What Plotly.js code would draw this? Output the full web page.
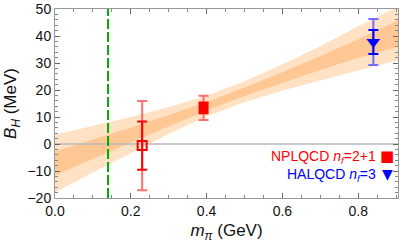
<!DOCTYPE html>
<html><head><meta charset="utf-8">
<script src="https://cdn.plot.ly/plotly-3.0.1.min.js"></script>
<style>html,body{margin:0;padding:0;background:#fff}#c{width:399px;height:245px}</style>
</head><body><div id="c"></div>
<script>
// Fit band
const bandX      = [0, 0.1, 0.2, 0.3, 0.4, 0.5, 0.6, 0.7, 0.8, 0.9, 0.91];
const outerUpper = [3.4, 6.7, 10.0, 13.7, 17.9, 23.2, 29.5, 36.2, 43.6, 50.6, 51.4];
const outerLower = [-18.0, -10.6, -3.3, 3.7, 10.2, 15.5, 19.8, 23.6, 27.2, 30.8, 31.1];
const innerUpper = [-2.8, 1.6, 6.1, 10.7, 15.6, 20.9, 26.6, 32.6, 38.8, 45.5, 46.1];
const innerLower = [-11.7, -5.5, 0.6, 6.6, 12.4, 17.8, 22.7, 27.4, 31.9, 35.8, 36.2];

// Lattice points
const nplX = [0.23, 0.392];
const nplY = [-0.6, 13.4];
const nplStat = [8.9, 2.0];
const nplTot = [16.5, 4.5];
const halX = [0.84];
const halY = [37.8];
const halStat = [4.45];
const halTot = [8.5];

const physMpi = 0.14;
const xRange = [0, 0.905];
const yRange = [-20, 50];

const legendLabels = ['NPLQCD <i>n</i><sub><i>f</i></sub>=2+1', 'HALQCD <i>n</i><sub><i>f</i></sub>=3'];
const legendGlyphs = ['■', '▼'];
const legendColors = ['rgb(255,0,0)', 'rgb(0,0,255)'];

const rev = a => a.slice().reverse();
const traces = [
  {x: bandX.concat(rev(bandX)), y: outerUpper.concat(rev(outerLower)), fill:'toself', mode:'lines',
   line:{width:0}, fillcolor:'rgb(255,226,196)', hoverinfo:'skip'},
  {x: bandX.concat(rev(bandX)), y: innerUpper.concat(rev(innerLower)), fill:'toself', mode:'lines',
   line:{width:0}, fillcolor:'rgb(255,199,148)', hoverinfo:'skip'},
  {x: xRange, y:[0,0], mode:'lines', line:{color:'rgb(185,185,185)', width:1.5}},
  {x:[physMpi, physMpi], y: yRange, mode:'lines', line:{color:'rgb(0,170,0)', width:2, dash:'10px,3px'}},
  // outer (total) error bars
  {x: nplX, y: nplY, mode:'markers', marker:{size:0.1, color:'rgba(0,0,0,0)'},
   error_y:{type:'data', array: nplTot, color:'rgb(255,110,110)', thickness:2, width:5}},
  {x: halX, y: halY, mode:'markers', marker:{size:0.1, color:'rgba(0,0,0,0)'},
   error_y:{type:'data', array: halTot, color:'rgb(110,110,255)', thickness:2, width:5}},
  // stat error bars + markers
  {x: [nplX[0]], y: [nplY[0]], mode:'markers',
   marker:{symbol:'square-open', size:9, color:'rgb(255,0,0)', line:{width:2, color:'rgb(255,0,0)'}},
   error_y:{type:'data', array:[nplStat[0]], color:'rgb(255,0,0)', thickness:2, width:5}},
  {x: [nplX[1]], y: [nplY[1]], mode:'markers',
   marker:{symbol:'square', size:10, color:'rgb(255,0,0)'},
   error_y:{type:'data', array:[nplStat[1]], color:'rgb(255,0,0)', thickness:2, width:5}},
  {x: halX, y: halY, mode:'markers',
   marker:{symbol:'triangle-down', size:12, color:'rgb(0,0,255)'},
   error_y:{type:'data', array: halStat, color:'rgb(0,0,255)', thickness:2, width:5}}
];

const fam = 'Liberation Sans, Arial, sans-serif';
const axisCommon = {
  showgrid:false, zeroline:false, showline:true, linecolor:'#999', linewidth:1, mirror:'allticks',
  ticks:'inside', ticklen:5, tickcolor:'#666', tickwidth:1,
  tickfont:{family:fam, size:14, color:'#111'}
};
const legY = [0.216, 0.121];
const annotations = [];
legendLabels.forEach((t, i) => {
  annotations.push({xref:'paper', yref:'paper', x:0.942, y:legY[i], xanchor:'right', yanchor:'middle',
    showarrow:false, text:t, font:{family:fam, size:14, color:legendColors[i]}});
  annotations.push({xref:'paper', yref:'paper', x:0.968, y:legY[i] + (i ? 0.005 : 0.008), xanchor:'center', yanchor:'middle',
    showarrow:false, text:legendGlyphs[i], font:{family:'DejaVu Sans', size: i ? 14 : 15, color:legendColors[i]}});
});
const layout = {
  width:399, height:245, margin:{l:55, r:1, t:9, b:47},
  paper_bgcolor:'#fff', plot_bgcolor:'#fff', showlegend:false,
  xaxis: Object.assign({}, axisCommon, {
    range: xRange, dtick:0.2, tick0:0, tickformat:'.1f',
    minor:{dtick:0.05, ticks:'inside', ticklen:3, tickcolor:'#888'},
    title:{text:'<i>m</i><sub><i>π</i></sub> (GeV)', font:{family:fam, size:17, color:'#111'}, standoff:6}
  }),
  yaxis: Object.assign({}, axisCommon, {
    range: yRange, dtick:10, tick0:0,
    minor:{dtick:2, ticks:'inside', ticklen:3, tickcolor:'#888'},
    title:{text:'<i>B</i><sub><i>H</i></sub> (MeV)', font:{family:fam, size:17, color:'#111'}, standoff:6}
  }),
  annotations: annotations
};
Plotly.newPlot('c', traces, layout, {staticPlot:true, displayModeBar:false});
</script></body></html>
